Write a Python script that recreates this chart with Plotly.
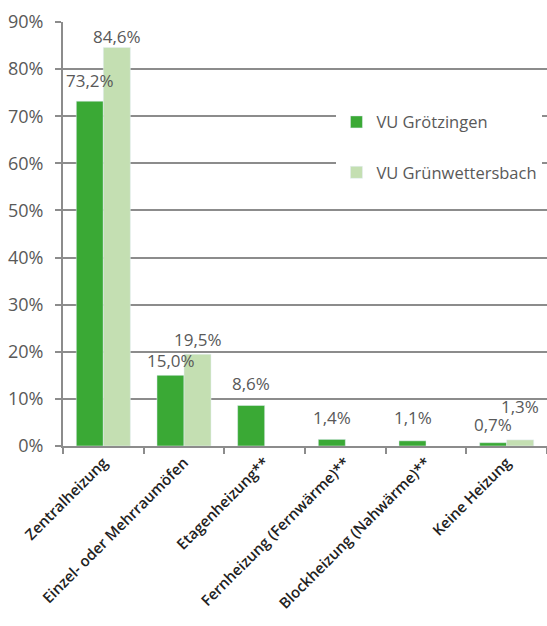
import plotly.graph_objects as go

categories = ["Zentralheizung", "Einzel- oder Mehrraumöfen", "Etagenheizung**",
              "Fernheizung (Fernwärme)**", "Blockheizung (Nahwärme)**", "Keine Heizung"]
series_names = ["VU Grötzingen", "VU Grünwettersbach"]
groetzingen = [73.2, 15.0, 8.6, 1.4, 1.1, 0.7]
gruenwettersbach = [84.6, 19.5, None, None, None, 1.3]
y_ticks = [0, 10, 20, 30, 40, 50, 60, 70, 80, 90]
y_tick_labels = [f"{t}%" for t in y_ticks]

# label styling offsets (pixels above bar top)
shift_dark = [21, 15, 22, 22, 23, 18]
shift_light = [11, 15, 0, 0, 0, 33]

DARK = "#3aa935"
LIGHT = "#c4dfb2"
GRID = "#8c8c8c"
TXT = "#595959"
FONT = "Open Sans"

fig = go.Figure()
fig.add_trace(go.Bar(x=categories, y=groetzingen, name=series_names[0],
                     marker_color=DARK, legendgroup="a"))
fig.add_trace(go.Bar(x=categories, y=gruenwettersbach, name=series_names[1],
                     marker_color=LIGHT, legendgroup="b"))

def fmt(v):
    return f"{v:.1f}".replace(".", ",") + "%"

annotations = []
for vals, shifts, xs in ((groetzingen, shift_dark, -13.5), (gruenwettersbach, shift_light, 13.5)):
    for c, v, s in zip(categories, vals, shifts):
        if v is None:
            continue
        annotations.append(dict(x=c, y=v, xref="x", yref="y", text=fmt(v),
                                showarrow=False, xshift=xs, yshift=s,
                                yanchor="middle", xanchor="center",
                                font=dict(family=FONT, size=17, color=TXT)))

fig.update_layout(
    width=547, height=626,
    margin=dict(l=63, r=0, t=22, b=180),
    paper_bgcolor="white", plot_bgcolor="white",
    barmode="group", bargap=0.33, bargroupgap=0,
    font=dict(family=FONT, color=TXT),
    annotations=annotations,
    showlegend=True,
    legend=dict(x=0.565, y=0.805, xanchor="left", yanchor="top",
                bgcolor="white", traceorder="grouped", tracegroupgap=26,
                font=dict(family=FONT, size=16.5, color=TXT),
                itemwidth=30),
    xaxis=dict(type="category", tickangle=-45, tickson="boundaries",
               ticks="outside", ticklen=6, tickwidth=2, tickcolor=GRID,
               showline=True, linecolor=GRID, linewidth=2, automargin=False,
               tickfont=dict(family=FONT, size=15, color="#222222", weight=600),
               range=[-0.5, 5.5]),
    yaxis=dict(range=[0, 90], tickvals=y_ticks, ticktext=y_tick_labels,
               showgrid=True, gridcolor=GRID, gridwidth=2, automargin=False,
               showline=True, linecolor=GRID, linewidth=2,
               ticks="outside", ticklen=6, tickwidth=2, tickcolor=GRID,
               zeroline=False, ticklabelstandoff=8,
               tickfont=dict(family=FONT, size=18, color=TXT)),
)

fig.write_html("out.html", config={"displayModeBar": False},
               post_script="document.body.style.margin='0';document.body.style.overflow='hidden';")
